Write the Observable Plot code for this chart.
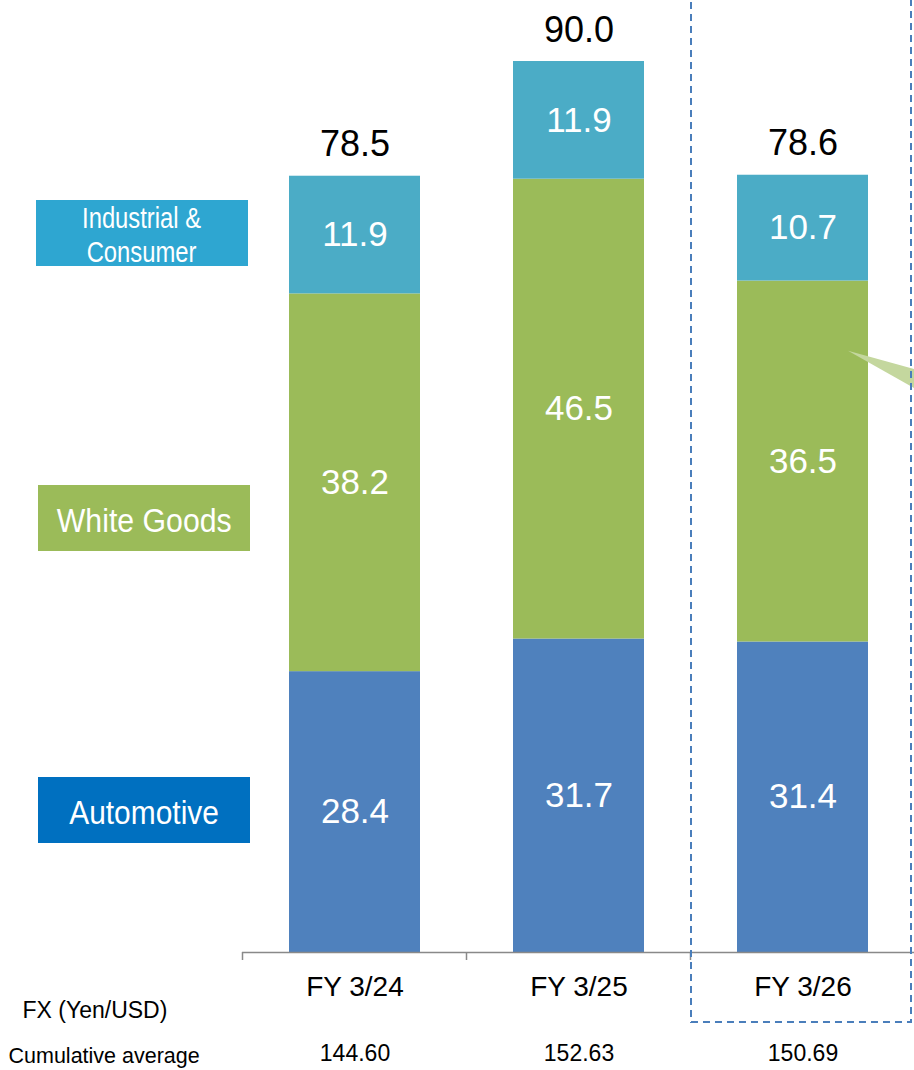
<!DOCTYPE html>
<html>
<head>
<meta charset="utf-8">
<script src="https://cdn.jsdelivr.net/npm/d3@7"></script>
<script src="https://cdn.jsdelivr.net/npm/@observablehq/plot@0.6"></script>
<style>
  html, body { margin: 0; padding: 0; background: #fff; }
  #wrap { position: relative; width: 914px; height: 1070px; overflow: hidden; font-family: "Liberation Sans", Arial, sans-serif; }
  #wrap svg { position: absolute; left: 0; top: 0; }
  .lg { position: absolute; color: #fff; display: flex; align-items: center; justify-content: center; text-align: center; }
  .lg span { display: inline-block; white-space: nowrap; }
</style>
</head>
<body>
<div id="wrap"></div>
<script>
// ---- data ----
const years = ["FY 3/24", "FY 3/25", "FY 3/26"];
const seriesNames = ["Automotive", "White Goods", "Industrial & Consumer"];
const automotive = [28.4, 31.7, 31.4];
const whiteGoods = [38.2, 46.5, 36.5];
const industrial = [11.9, 11.9, 10.7];
const totals = [78.5, 90.0, 78.6];
const fxRates = ["144.60", "152.63", "150.69"];
const fxTitle = "FX (Yen/USD)";
const fxSubtitle = "Cumulative average";
const barColors = ["#4F81BD", "#9BBB59", "#4BACC6"];
const legendColors = ["#0070C0", "#9BBB59", "#2EA6D1"];

// ---- table ----
const seriesValues = [automotive, whiteGoods, industrial];
const rows = [];
years.forEach((yr, i) => {
  seriesNames.forEach((s, j) => rows.push({year: yr, series: s, value: seriesValues[j][i]}));
});
const totalRows = years.map((yr, i) => ({year: yr, total: totals[i], fx: fxRates[i]}));

const font = "'Liberation Sans', Arial, sans-serif";

// callout triangle & dashed highlight box (annotation around the forecast year)
function highlight(index, scales, values, dims) {
  const g = d3.create("svg:g");
  const x = scales.x, y = scales.y;
  const x0 = x(years[2]), bw = x.bandwidth();
  // callout wedge
  const tipX = x0 + bw - 20, tipY = y(60.8);
  g.append("path")
    .attr("d", `M${tipX},${tipY} L${tipX + 80},${tipY + 22} L${tipX + 80},${tipY + 45} Z`)
    .attr("fill", "#C4D79E");
  // dashed box
  const left = x0 - 46, right = x0 + bw + 43;
  g.append("path")
    .attr("d", `M${left},-10 L${left},${y(-7.08)} L${right},${y(-7.08)} L${right},-10`)
    .attr("fill", "none")
    .attr("stroke", "#4A7EBB")
    .attr("stroke-width", 2)
    .attr("stroke-dasharray", "7,5");
  return g.node();
}

const chart = Plot.plot({
  width: 914,
  height: 1070,
  marginLeft: 242,
  marginRight: 0,
  marginTop: 0,
  marginBottom: 0,
  style: {fontFamily: font, background: "transparent", overflow: "visible"},
  x: {type: "band", domain: years, range: [288, 870], paddingInner: 0.4133, paddingOuter: 0, axis: null},
  y: {domain: [0, 90], range: [952, 62], axis: null},
  color: {domain: seriesNames, range: barColors},
  marks: [
    Plot.barY(rows, {x: "year", y: "value", fill: "series"}),
    Plot.text(rows, Plot.stackY({x: "year", y: "value", z: "series", text: d => d.value.toFixed(1), fill: "white", fontSize: 35, lineAnchor: "middle"})),
    Plot.text(totalRows, {x: "year", y: "total", text: d => d.total.toFixed(1), fill: "black", fontSize: 36, lineAnchor: "middle", dy: -32}),
    Plot.ruleY([0], {stroke: "#898989", strokeWidth: 1.5}),
    Plot.ruleX(years, {x: d => d, y1: 0, y2: 0, dx: -112.5, insetBottom: -8, stroke: "#898989", strokeWidth: 1.5}),
    Plot.text(years, {x: d => d, y: 0, text: d => d, fill: "black", fontSize: 28, lineAnchor: "middle", dy: 35}),
    Plot.text(totalRows, {x: "year", frameAnchor: "bottom", text: "fx", fill: "black", fontSize: 23, lineAnchor: "middle", dy: -17}),
    Plot.text([fxTitle], {frameAnchor: "bottom-left", text: d => d, textAnchor: "start", fill: "black", fontSize: 23, lineAnchor: "middle", dx: -220, dy: -60}),
    Plot.text([fxSubtitle], {frameAnchor: "bottom-left", text: d => d, textAnchor: "start", fill: "black", fontSize: 21.5, lineAnchor: "middle", dx: -234, dy: -14}),
    highlight
  ]
});

const wrap = document.getElementById("wrap");
wrap.appendChild(chart);

// legend labels (boxes at left)
const legendSpecs = [
  {name: seriesNames[2], color: legendColors[2], top: 200, left: 36, w: 212, h: 66, size: 29, sx: 0.82, lh: 34, html: "Industrial &amp;<br>Consumer"},
  {name: seriesNames[1], color: legendColors[1], top: 485, left: 38, w: 212, h: 66, size: 34, sx: 0.89, lh: 36},
  {name: seriesNames[0], color: legendColors[0], top: 777, left: 38, w: 212, h: 66, size: 34, sx: 0.88, lh: 36}
];
legendSpecs.forEach(s => {
  const d = document.createElement("div");
  d.className = "lg";
  Object.assign(d.style, {top: s.top + "px", left: s.left + "px", width: s.w + "px", height: s.h + "px", background: s.color});
  const sp = document.createElement("span");
  Object.assign(sp.style, {fontSize: s.size + "px", lineHeight: s.lh + "px", transform: `scaleX(${s.sx})`, position: "relative", top: "2px"});
  if (s.html) sp.innerHTML = s.html; else sp.textContent = s.name;
  d.appendChild(sp);
  wrap.appendChild(d);
});
</script>
</body>
</html>
